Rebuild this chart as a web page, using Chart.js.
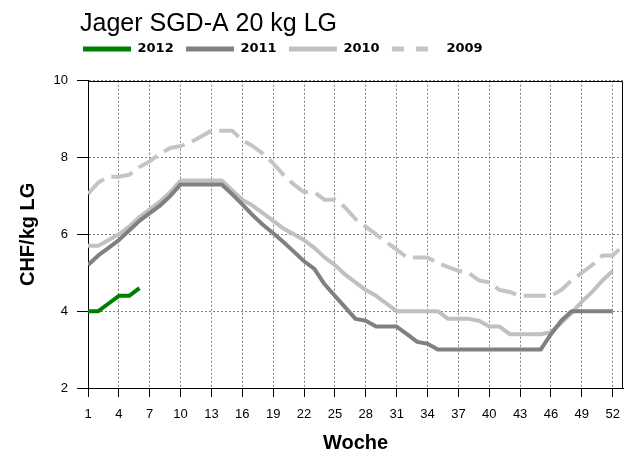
<!DOCTYPE html>
<html><head><meta charset="utf-8">
<script src="https://cdn.jsdelivr.net/npm/chart.js@4.4.0/dist/chart.umd.min.js"></script>
<style>html,body{margin:0;padding:0;background:#fff;} canvas{display:block;}</style>
</head><body>
<canvas id="c" width="633" height="461"></canvas>
<script>
// ---- data ----
const weeks = [1,2,3,4,5,6,7,8,9,10,11,12,13,14,15,16,17,18,19,20,21,22,23,24,25,26,27,28,29,30,31,32,33,34,35,36,37,38,39,40,41,42,43,44,45,46,47,48,49,50,51,52,53];
const xTickValues = [1,4,7,10,13,16,19,22,25,28,31,34,37,40,43,46,49,52];
const yTickValues = [2,4,6,8,10];
const seriesNames = ['2012','2011','2010','2009'];
const v2012 = [4.0,4.0,4.2,4.4,4.4,4.6];
const v2011 = [5.2,5.45,5.65,5.85,6.1,6.35,6.55,6.75,7.0,7.3,7.3,7.3,7.3,7.3,7.05,6.78,6.5,6.25,6.03,5.8,5.55,5.3,5.1,4.7,4.4,4.1,3.8,3.75,3.6,3.6,3.6,3.4,3.2,3.15,3.0,3.0,3.0,3.0,3.0,3.0,3.0,3.0,3.0,3.0,3.0,3.4,3.75,4.0,4.0,4.0,4.0,4.0];
const v2010 = [5.7,5.7,5.85,6.0,6.2,6.45,6.65,6.85,7.1,7.4,7.4,7.4,7.4,7.4,7.15,6.9,6.75,6.55,6.35,6.15,6.0,5.85,5.65,5.4,5.2,4.95,4.75,4.55,4.4,4.2,4.0,4.0,4.0,4.0,4.0,3.8,3.8,3.8,3.75,3.6,3.6,3.4,3.4,3.4,3.4,3.45,3.7,3.95,4.25,4.5,4.8,5.05];
const v2009 = [7.05,7.35,7.5,7.5,7.55,7.75,7.9,8.1,8.25,8.3,8.4,8.55,8.7,8.7,8.7,8.45,8.3,8.1,7.85,7.55,7.3,7.1,7.1,6.9,6.9,6.7,6.4,6.2,6.0,5.8,5.6,5.4,5.4,5.4,5.25,5.15,5.05,5.0,4.8,4.75,4.55,4.5,4.4,4.4,4.4,4.4,4.55,4.8,5.0,5.2,5.45,5.45,5.7];

const pts = vals => vals.map((v, i) => ({x: weeks[i], y: v}));

const framePlugin = {
  id: 'frame',
  beforeDatasetsDraw(chart) {
    const {ctx, chartArea: a} = chart;
    ctx.save();
    ctx.strokeStyle = '#000';
    ctx.lineWidth = 1;
    ctx.beginPath();
    ctx.moveTo(a.left, Math.round(a.top) + 0.5);
    ctx.lineTo(Math.round(a.right) - 0.5, Math.round(a.top) + 0.5);
    ctx.lineTo(Math.round(a.right) - 0.5, a.bottom);
    ctx.stroke();
    ctx.restore();
  }
};
const placePlugin = {
  id: 'place',
  afterLayout(chart) {
    const t = chart.titleBlock;
    t.left = 80; t.top = 9;
    const lg = chart.legend;
    const P = lg.options.labels.padding;
    lg.left = 83 - P;
    lg.top = 49 - P - 6.5;
  }
};

const tickFont = {family: 'Liberation Sans', size: 13};
const axisTitleFont = {family: 'Liberation Sans', size: 20, weight: 'bold', lineHeight: 1.2};
new Chart(document.getElementById('c'), {
  type: 'line',
  data: {datasets: [
    {label: seriesNames[0], data: pts(v2012), borderColor: '#008000', backgroundColor: '#008000'},
    {label: seriesNames[1], data: pts(v2011), borderColor: '#808080', backgroundColor: '#808080'},
    {label: seriesNames[2], data: pts(v2010), borderColor: '#c0c0c0', backgroundColor: '#c0c0c0'},
    {label: seriesNames[3], data: pts(v2009), borderColor: '#c4c4c4', backgroundColor: '#c4c4c4', borderDash: [22, 8]}
  ]},
  options: {
    responsive: false, animation: false, devicePixelRatio: 1,
    elements: {point: {radius: 0, hoverRadius: 0}, line: {tension: 0, borderWidth: 4, borderCapStyle: 'butt', borderJoinStyle: 'round', fill: false}},
    layout: {padding: {left: 0, right: 10, top: 15.4, bottom: 0}},
    plugins: {
      tooltip: {enabled: false},
      title: {display: true, text: 'Jager SGD-A 20 kg LG', align: 'start', color: '#000', padding: 0,
        font: {family: 'Liberation Sans', size: 25, weight: 'normal', lineHeight: 1.2}},
      legend: {display: true, align: 'start',
        labels: {usePointStyle: true, pointStyle: 'line', pointStyleWidth: 48, boxHeight: 13, padding: 12.3, color: '#000',
          font: {family: 'DejaVu Sans', size: 13, weight: 'bold'},
          generateLabels(chart) {
            const items = Chart.defaults.plugins.legend.labels.generateLabels(chart);
            items.forEach(it => { it.lineWidth = 5; it.pointStyle = 'line'; });
            items[3].lineDash = [12, 12];
            return items;
          }}}
    },
    scales: {
      x: {type: 'linear', min: 1, max: 53,
        afterBuildTicks: s => { s.ticks = xTickValues.map(v => ({value: v})); },
        afterFit: s => { s.height = 73; },
        ticks: {autoSkip: false, maxRotation: 0, color: '#000', font: tickFont, padding: 10},
        grid: {color: '#808080', lineWidth: 1, tickLength: 9, tickColor: '#000', tickWidth: 1, tickBorderDash: []},
        border: {display: true, color: '#000', width: 1, dash: [2, 2]},
        title: {display: true, text: 'Woche', color: '#000', font: axisTitleFont, padding: {top: 0, bottom: 6}}
      },
      y: {type: 'linear', min: 2, max: 10,
        afterBuildTicks: s => { s.ticks = yTickValues.map(v => ({value: v})); },
        afterFit: s => { s.width = 88; },
        ticks: {color: '#000', font: tickFont, padding: 9},
        grid: {color: '#808080', lineWidth: 1, tickLength: 11, tickColor: '#000', tickWidth: 1, tickBorderDash: []},
        border: {display: true, color: '#000', width: 1, dash: [2, 2]},
        title: {display: true, text: 'CHF/kg LG', color: '#000', font: axisTitleFont, padding: {top: 16, bottom: 0}}
      }
    }
  },
  plugins: [framePlugin, placePlugin]
});
</script>
</body></html>
